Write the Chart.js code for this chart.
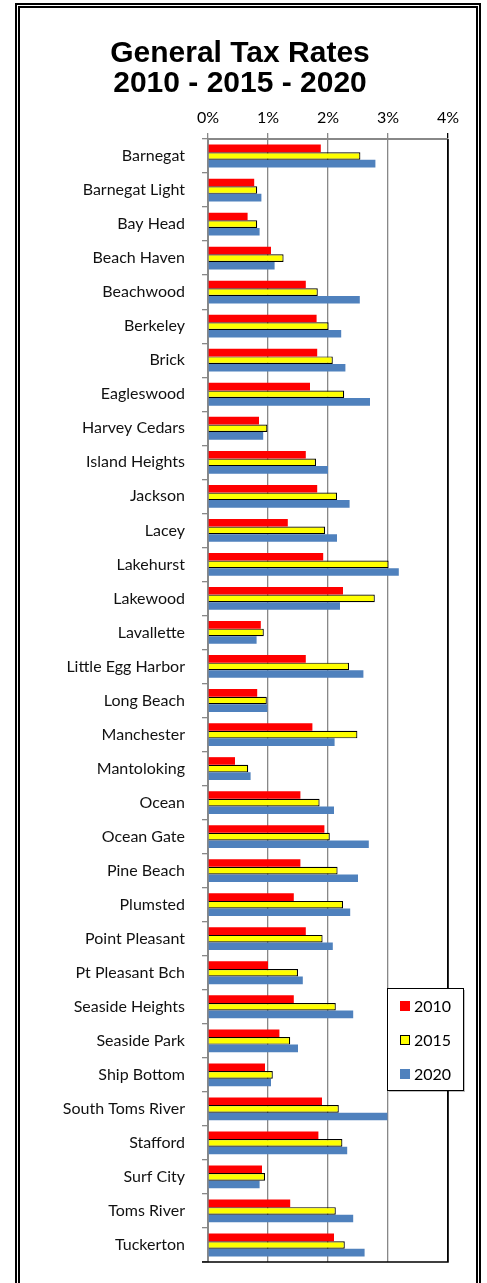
<!DOCTYPE html>
<html>
<head>
<meta charset="utf-8">
<script src="https://cdn.jsdelivr.net/npm/chart.js@4.4.1/dist/chart.umd.min.js"></script>
<style>
  html, body { margin: 0; padding: 0; background: #fff; overflow: hidden; }
  #wrap { position: absolute; left: 0; top: 0; width: 487px; height: 1283px; }
  #frame {
    position: absolute; left: 15px; top: 3px; width: 466px; height: 1300px;
    border: 5px double #000; box-sizing: border-box; pointer-events: none;
  }
</style>
</head>
<body>
<div id="wrap">
  <canvas id="rates" width="487" height="1283"></canvas>
  <div id="frame"></div>
</div>
<script>
const towns = [
  "Barnegat", "Barnegat Light", "Bay Head", "Beach Haven", "Beachwood",
  "Berkeley", "Brick", "Eagleswood", "Harvey Cedars", "Island Heights",
  "Jackson", "Lacey", "Lakehurst", "Lakewood", "Lavallette",
  "Little Egg Harbor", "Long Beach", "Manchester", "Mantoloking", "Ocean",
  "Ocean Gate", "Pine Beach", "Plumsted", "Point Pleasant", "Pt Pleasant Bch",
  "Seaside Heights", "Seaside Park", "Ship Bottom", "South Toms River", "Stafford",
  "Surf City", "Toms River", "Tuckerton"
]

const years = ["2010", "2015", "2020"]

const rates2010 = [
  1.88, 0.77, 0.66, 1.05, 1.63, 1.81, 1.82, 1.70, 0.85, 1.63,
  1.82, 1.33, 1.92, 2.25, 0.88, 1.63, 0.82, 1.74, 0.45, 1.54,
  1.94, 1.54, 1.43, 1.63, 1.00, 1.43, 1.19, 0.95, 1.90, 1.84,
  0.90, 1.37, 2.10
]
const rates2015 = [
  2.54, 0.82, 0.82, 1.26, 1.83, 2.01, 2.08, 2.27, 0.99, 1.80,
  2.15, 1.95, 3.01, 2.78, 0.93, 2.35, 0.98, 2.49, 0.67, 1.86,
  2.03, 2.16, 2.25, 1.91, 1.50, 2.13, 1.37, 1.08, 2.18, 2.24,
  0.95, 2.13, 2.28
]
const rates2020 = [
  2.79, 0.89, 0.86, 1.11, 2.53, 2.22, 2.29, 2.70, 0.92, 2.00,
  2.36, 2.15, 3.18, 2.20, 0.81, 2.59, 0.99, 2.11, 0.71, 2.10,
  2.68, 2.50, 2.37, 2.08, 1.58, 2.42, 1.50, 1.05, 2.99, 2.32,
  0.86, 2.42, 2.61
]

const xTicks = [0, 1, 2, 3, 4]

const labelFont = { family: "Lato", size: 16 }

// plot frame (right + bottom) and the boxed legend sitting over the plot
const framePlugin = {
  id: "framePlugin",
  afterDraw(chart) {
    const { ctx, chartArea } = chart
    ctx.save()
    ctx.strokeStyle = "#000"
    ctx.lineWidth = 1.5
    ctx.beginPath()
    ctx.moveTo(chartArea.right, chartArea.top)
    ctx.lineTo(chartArea.right, chartArea.bottom)
    ctx.lineTo(chartArea.left - 6, chartArea.bottom)
    ctx.stroke()

    // legend
    const bx = 387, by = 988, bw = 76, bh = 102
    ctx.fillStyle = "rgba(0,0,0,0.25)"
    ctx.fillRect(bx + 2, by + 2, bw, bh)
    ctx.fillStyle = "#fff"
    ctx.fillRect(bx, by, bw, bh)
    ctx.strokeStyle = "#000"
    ctx.lineWidth = 1
    ctx.strokeRect(bx + 0.5, by + 0.5, bw, bh)

    const rows = [1006, 1040, 1074]
    chart.data.datasets.forEach((ds, i) => {
      const y = rows[i]
      ctx.fillStyle = ds.backgroundColor
      ctx.fillRect(400, y - 5, 10, 10)
      if (ds.borderWidth) {
        ctx.strokeStyle = ds.borderColor
        ctx.lineWidth = 1
        ctx.strokeRect(400.5, y - 4.5, 9, 9)
      }
      ctx.fillStyle = "#000"
      ctx.font = "16px Lato"
      ctx.textBaseline = "middle"
      ctx.textAlign = "left"
      ctx.fillText(ds.label, 414, y + 1)
    })
    ctx.restore()
  },
}

const options = {
  type: "bar",
  data: {
    labels: towns,
    datasets: [
      {
        label: years[0],
        data: rates2010,
        backgroundColor: "#FF0000",
        borderWidth: 0,
      },
      {
        label: years[1],
        data: rates2015,
        backgroundColor: "#FFFF00",
        borderColor: "#000000",
        borderWidth: 1.2,
      },
      {
        label: years[2],
        data: rates2020,
        backgroundColor: "#4F81BD",
        borderWidth: 0,
      },
    ],
  },
  options: {
    indexAxis: "y",
    responsive: false,
    animation: false,
    categoryPercentage: 0.67,
    barPercentage: 1,
    layout: {
      padding: { left: 32, right: 39, top: 0, bottom: 21 },
    },
    scales: {
      x: {
        position: "top",
        min: 0,
        max: 4,
        afterBuildTicks: (scale) => {
          scale.ticks = xTicks.map(v => ({ value: v }))
        },
        afterFit: (scale) => { scale.height = 40 },
        ticks: {
          color: "#000",
          font: labelFont,
          padding: 6,
          callback: (v) => v + "%",
        },
        grid: {
          color: (c) => c.tick && c.tick.value === 4 ? "#000" : "#888",
          lineWidth: 1.3,
          tickLength: 6,
        },
        border: { color: "#888", width: 2 },
      },
      y: {
        afterFit: (scale) => {
          scale.width = 176
          scale.paddingTop = 0
          scale.paddingBottom = 0
        },
        ticks: {
          color: "#111",
          font: labelFont,
          padding: 17,
        },
        grid: {
          drawOnChartArea: false,
          color: "#888",
          lineWidth: 1.3,
          tickLength: 6,
          offset: true,
        },
        border: { color: "#888", width: 2 },
      },
    },
    plugins: {
      legend: { display: false },
      tooltip: { enabled: false },
      title: {
        display: true,
        text: ["General Tax Rates", "2010 - 2015 - 2020"],
        color: "#000",
        font: { family: "Liberation Sans", size: 30, weight: "bold", lineHeight: 1.0 },
        padding: { top: 39, bottom: 0 },
      },
    },
  },
  plugins: [framePlugin],
}

new Chart(document.getElementById("rates"), options)
</script>
</body>
</html>
